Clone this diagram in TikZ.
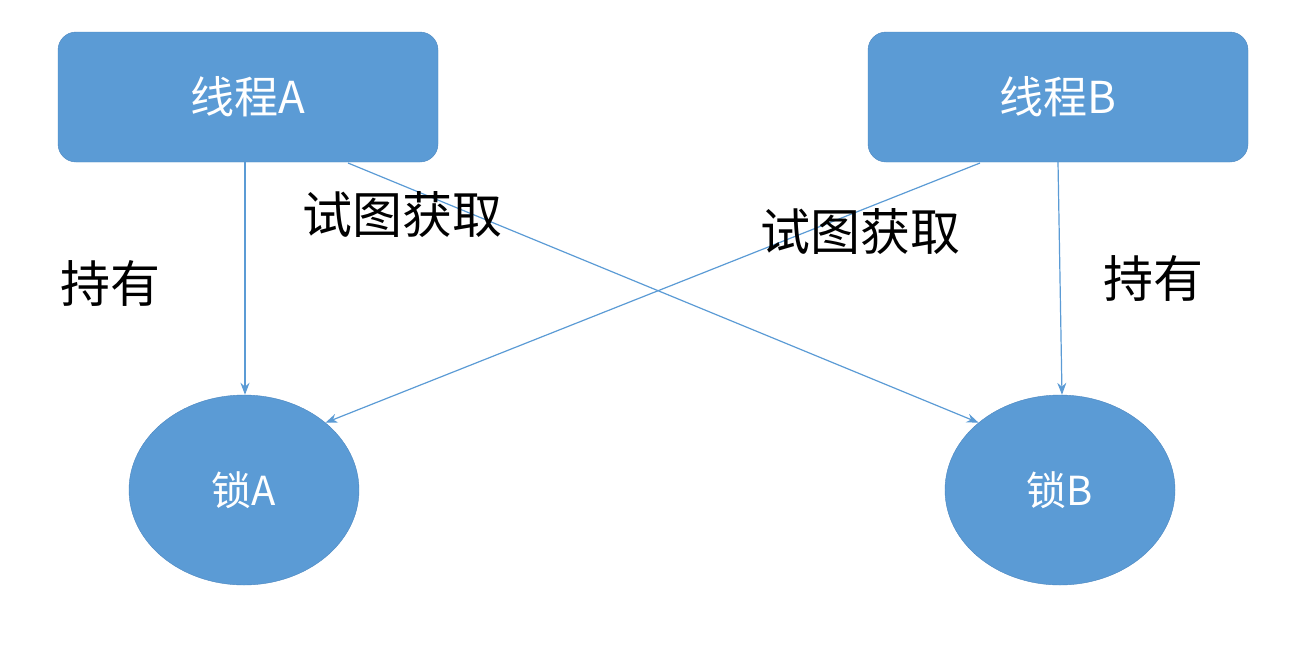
\documentclass[tikz,border=0pt]{standalone}
\usepackage{fontspec}
\setmainfont{Noto Sans CJK SC}
\usetikzlibrary{shapes.geometric,arrows.meta}
\definecolor{blu}{HTML}{5B9BD5}
\definecolor{bdr}{HTML}{4A86C0}
\tikzset{
 thread/.style={draw=bdr,fill=blu,rounded corners=18pt,minimum width=380pt,minimum height=130pt,text=white,font=\fontsize{44}{44}\selectfont},
 lock/.style={draw=bdr,fill=blu,ellipse,minimum width=230pt,minimum height=190pt,text=white,font=\fontsize{40}{40}\selectfont},
 conn/.style={draw=blu,line width=1.2pt,-{Stealth[length=12pt,width=9pt]}},
 lbl/.style={font=\fontsize{50}{50}\selectfont,text=black}
}
\begin{document}
\begin{tikzpicture}[x=1pt,y=-1pt]
\useasboundingbox (0,0) rectangle (1300,649);
\node[thread] (ta) at (248,97) {线程A};
\node[thread] (tb) at (1058,97) {线程B};
\node[lock] (la) at (244,490) {锁A};
\node[lock] (lb) at (1060,490) {锁B};
\coordinate (a1) at (348,163);
\coordinate (b1) at (980,163);
\draw[conn] (ta.south -| 245,0) -- (la.north -| 245,0);
\draw[conn] (tb.south -| 1058,0) -- (lb.north -| 1062,0);
\draw[conn] (a1) -- (lb.north west);
\draw[conn] (b1) -- (la.north east);
\node[lbl] (h1) at (110,283) {持有};
\node[lbl] (h2) at (1153,278) {持有};
\node[lbl] (s1) at (402,215) {试图获取};
\node[lbl] (s2) at (860,232) {试图获取};
\end{tikzpicture}
\end{document}
